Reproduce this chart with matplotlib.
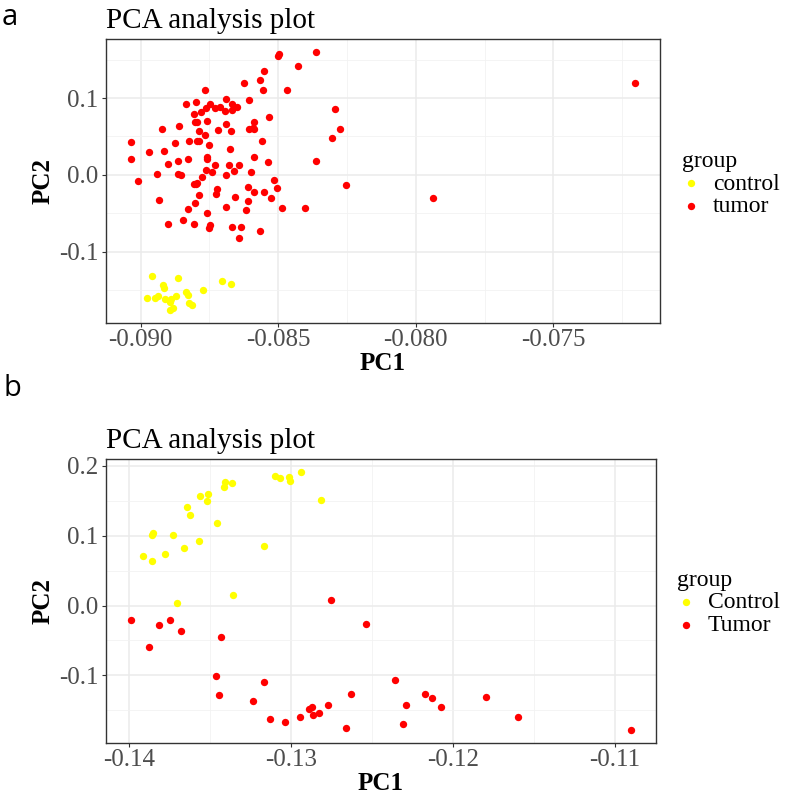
import matplotlib
matplotlib.use("Agg")
import matplotlib.pyplot as plt
import numpy as np

# ---------------- data : panel a ----------------
a_tumor_pc1 = [-0.08502, -0.08496, -0.08361, -0.08427, -0.08551, -0.08567, -0.08625, -0.08554,
               -0.08469, -0.08766, -0.08605, -0.08688, -0.08798, -0.08834, -0.08747, -0.08761,
               -0.08731, -0.08710, -0.08692, -0.08667, -0.08667, -0.08648, -0.08782, -0.08807,
               -0.08534, -0.08294, -0.08276, -0.08306, -0.08361, -0.08254, -0.08801, -0.08795,
               -0.08757, -0.08688, -0.08589, -0.08607, -0.08592, -0.08588, -0.08923, -0.08861,
               -0.08788, -0.08720, -0.08673, -0.08767, -0.09034, -0.09034, -0.08969, -0.08916,
               -0.08873, -0.08825, -0.08795, -0.08789, -0.08753, -0.08675, -0.08557, -0.08587,
               -0.08537, -0.08760, -0.08760, -0.08828, -0.08864, -0.08900, -0.08729, -0.08677,
               -0.08641, -0.08661, -0.08763, -0.08742, -0.08690, -0.08599, -0.08939, -0.08865,
               -0.08852, -0.09011, -0.08776, -0.08806, -0.08794, -0.08800, -0.08516, -0.08505,
               -0.08608, -0.08588, -0.08551, -0.08526, -0.08723, -0.08725, -0.08786, -0.08658,
               -0.08933, -0.08801, -0.08608, -0.08688, -0.08487, -0.08404, -0.08828, -0.08616,
               -0.08757, -0.08846, -0.08900, -0.08807, -0.08749, -0.08752, -0.08669, -0.08635,
               -0.08567, -0.08641, -0.07938, -0.07204]
a_tumor_pc2 = [0.1550, 0.1576, 0.1600, 0.1420, 0.1350, 0.1240, 0.1200, 0.1110,
               0.1110, 0.1110, 0.0974, 0.0987, 0.0948, 0.0918, 0.0918, 0.0870,
               0.0870, 0.0880, 0.0835, 0.0918, 0.0844, 0.0880, 0.0814, 0.0788,
               0.0749, 0.0857, 0.0597, 0.0481, 0.0186, -0.0126, 0.0693, 0.0693,
               0.0706, 0.0658, 0.0684, 0.0597, 0.0615, 0.0597, 0.0597, 0.0632,
               0.0576, 0.0589, 0.0576, 0.0515, 0.0433, 0.0203, 0.0303, 0.0316,
               0.0411, 0.0446, 0.0437, 0.0446, 0.0385, 0.0342, 0.0446, 0.0234,
               0.0173, 0.0234, 0.0212, 0.0203, 0.0186, 0.0139, 0.0126, 0.0126,
               0.0126, 0.0056, 0.0061, 0.0035, 0.0000, 0.0035, 0.0013, 0.0013,
               0.0000, -0.0082, -0.0022, -0.0113, -0.0100, -0.0121, -0.0069, -0.0173,
               -0.0160, -0.0225, -0.0225, -0.0294, -0.0186, -0.0242, -0.0255, -0.0281,
               -0.0329, -0.0368, -0.0338, -0.0420, -0.0433, -0.0424, -0.0446, -0.0459,
               -0.0494, -0.0589, -0.0632, -0.0632, -0.0654, -0.0693, -0.0671, -0.0671,
               -0.0727, -0.0814, -0.0294, 0.1200]
a_control_pc1 = [-0.08959, -0.08864, -0.08920, -0.08916, -0.08704, -0.08670, -0.08772,
                 -0.08834, -0.08827, -0.08977, -0.08947, -0.08935, -0.08910, -0.08888,
                 -0.08870, -0.08894, -0.08824, -0.08813, -0.08882, -0.08892]
a_control_pc2 = [-0.1316, -0.1338, -0.1433, -0.1472, -0.1385, -0.1424, -0.1502,
                 -0.1528, -0.1563, -0.1606, -0.1606, -0.1576, -0.1610, -0.1615,
                 -0.1576, -0.1658, -0.1671, -0.1697, -0.1727, -0.1758]
a_labels = ["control", "tumor"]
a_xticks = [-0.090, -0.085, -0.080, -0.075]
a_xticklabels = ["-0.090", "-0.085", "-0.080", "-0.075"]
a_yticks = [-0.1, 0.0, 0.1]
a_yticklabels = ["-0.1", "0.0", "0.1"]

# ---------------- data : panel b ----------------
b_control_pc1 = [-0.12938, -0.13097, -0.13068, -0.13014, -0.13002, -0.12814, -0.13406,
                 -0.13365, -0.13410, -0.13511, -0.13563, -0.13520, -0.13641, -0.13625,
                 -0.13456, -0.13849, -0.13856, -0.13726, -0.13569, -0.13656, -0.13167,
                 -0.13779, -0.13915, -0.13854, -0.13357, -0.13701]
b_control_pc2 = [0.191, 0.185, 0.182, 0.184, 0.178, 0.151, 0.177,
                 0.175, 0.169, 0.160, 0.156, 0.150, 0.141, 0.130,
                 0.118, 0.104, 0.101, 0.101, 0.0924, 0.0819, 0.0857,
                 0.0738, 0.0714, 0.0633, 0.0148, 0.0043]
b_tumor_pc1 = [-0.13986, -0.13814, -0.13746, -0.13680, -0.13876, -0.12753, -0.12534,
               -0.13433, -0.13462, -0.13445, -0.13167, -0.13233, -0.13126, -0.13033,
               -0.12946, -0.12887, -0.12870, -0.12864, -0.12829, -0.12769, -0.12662,
               -0.12629, -0.12355, -0.12169, -0.12130, -0.12287, -0.12076, -0.12305,
               -0.11796, -0.11600, -0.10901]
b_tumor_pc2 = [-0.0214, -0.0281, -0.0205, -0.0371, -0.0590, 0.0081, -0.0267,
               -0.0452, -0.1005, -0.1286, -0.1095, -0.1367, -0.1624, -0.1671,
               -0.1595, -0.1481, -0.1457, -0.1571, -0.1533, -0.1429, -0.1748,
               -0.1271, -0.1067, -0.1271, -0.1324, -0.1429, -0.1457, -0.1700,
               -0.1310, -0.1595, -0.1781]
b_labels = ["Control", "Tumor"]
b_xticks = [-0.14, -0.13, -0.12, -0.11]
b_xticklabels = ["-0.14", "-0.13", "-0.12", "-0.11"]
b_yticks = [-0.1, 0.0, 0.1, 0.2]
b_yticklabels = ["-0.1", "0.0", "0.1", "0.2"]

title_text = "PCA analysis plot"
legend_title = "group"
col_control = "#FFFF00"
col_tumor = "#FF0000"

# ---------------- style ----------------
SERIF = ["Liberation Serif", "DejaVu Serif"]
plt.rcParams["font.family"] = SERIF

W, H = 786, 794
fig = plt.figure(figsize=(W / 100, H / 100), dpi=100)


def expand(vals, f=0.05):
    lo, hi = min(vals), max(vals)
    r = hi - lo
    return lo - f * r, hi + f * r


def panel(rect, c1, c2, t1, t2, labels, xt, xtl, yt, ytl, leg_anchor):
    ax = fig.add_axes(rect)
    ax.set_facecolor("white")
    ax.scatter(c1, c2, s=28, color=col_control, linewidths=0, zorder=3, label=labels[0])
    ax.scatter(t1, t2, s=28, color=col_tumor, linewidths=0, zorder=3, label=labels[1])
    ax.set_xticks(xt)
    ax.set_xticklabels(xtl)
    ax.set_yticks(yt)
    ax.set_yticklabels(ytl)
    # minor grid at midpoints
    xs = np.diff(xt)[0]
    ys = np.diff(yt)[0]
    xm = [v + xs / 2 for v in [xt[0] - xs] + list(xt)]
    ym = [v + ys / 2 for v in [yt[0] - ys] + list(yt)]
    ax.set_xticks(xm, minor=True)
    ax.set_yticks(ym, minor=True)
    # limits set after ticks (ticks would otherwise widen the view)
    ax.set_xlim(*expand(list(c1) + list(t1)))
    ax.set_ylim(*expand(list(c2) + list(t2)))
    ax.grid(which="major", color="#EBEBEB", linewidth=1.1, zorder=0)
    ax.grid(which="minor", color="#F2F2F2", linewidth=0.6, zorder=0)
    ax.set_axisbelow(True)
    ax.tick_params(which="minor", length=0)
    ax.tick_params(which="major", length=2.8, width=0.8, color="#333333",
                   labelsize=18, labelcolor="#4D4D4D")
    ax.tick_params(axis="x", pad=1.5)
    ax.tick_params(axis="y", pad=2.5)
    for sp in ax.spines.values():
        sp.set_color("#333333")
        sp.set_linewidth(1.0)
    ax.set_xlabel("PC1", fontsize=18, fontweight="bold", labelpad=1)
    ax.set_ylabel("PC2", fontsize=18, fontweight="bold", labelpad=3)
    ax.set_title(title_text, loc="left", fontsize=21, pad=8)
    ax.legend(title=legend_title, loc="center left", bbox_to_anchor=leg_anchor,
              bbox_transform=fig.transFigure, frameon=False, fontsize=17,
              title_fontsize=17, borderpad=0, borderaxespad=0,
              handlelength=0.8, handletextpad=0.5, labelspacing=0.05,
              alignment="left", scatterpoints=1)
    return ax


panel([106 / W, 1 - 323 / H, 554 / W, 284 / H],
      a_control_pc1, a_control_pc2, a_tumor_pc1, a_tumor_pc2, a_labels,
      a_xticks, a_xticklabels, a_yticks, a_yticklabels, (682 / W, 1 - 184 / H))

panel([106 / W, 1 - 743 / H, 550 / W, 284 / H],
      b_control_pc1, b_control_pc2, b_tumor_pc1, b_tumor_pc2, b_labels,
      b_xticks, b_xticklabels, b_yticks, b_yticklabels, (677 / W, 1 - 603 / H))

fig.text(2 / W, 1 - 3 / H, "a", fontsize=21, va="top", ha="left",
         family=["Open Sans", "DejaVu Sans"])
fig.text(3 / W, 1 - 374 / H, "b", fontsize=21, va="top", ha="left",
         family=["Open Sans", "DejaVu Sans"])

fig.savefig("out.png", dpi=100)
